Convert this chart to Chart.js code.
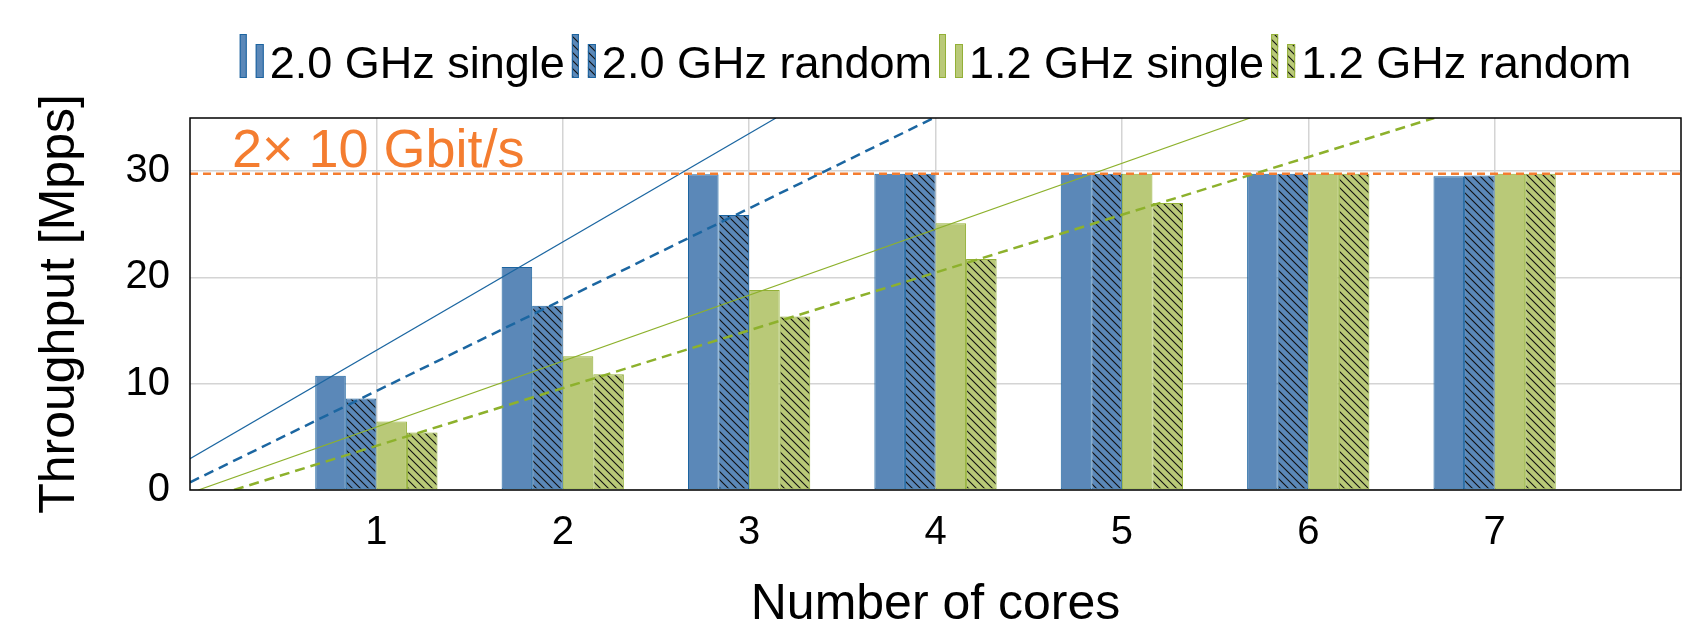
<!DOCTYPE html>
<html>
<head>
<meta charset="utf-8">
<script src="https://cdn.jsdelivr.net/npm/chart.js@4.4.0/dist/chart.umd.min.js"></script>
<style>
    html, body { margin: 0; padding: 0; background: #fff; }
</style>
</head>
<body>
<canvas id="myChart" width="1687" height="625"></canvas>
<script>
const cores = [1, 2, 3, 4, 5, 6, 7]
const single20 = [10.74, 20.97, 29.70, 29.76, 29.76, 29.76, 29.51]
const random20 = [8.60, 17.33, 25.87, 29.76, 29.76, 29.76, 29.58]
const single12 = [6.44, 12.59, 18.81, 25.09, 29.76, 29.76, 29.76]
const random12 = [5.40, 10.89, 16.33, 21.73, 27.00, 29.76, 29.76]
const seriesLabels = ['2.0 GHz single', '2.0 GHz random', '1.2 GHz single', '1.2 GHz random']
const yTicks = [0, 10, 20, 30]

// 2x10GbE line rate
const lineRate = 29.76
const lineRateLabel = '2× 10 Gbit/s'
const lineRateLabelAt = [0.225, 30.4]

// ideal scaling lines, end points [x, y]
const idealSingle20 = [[0, 2.95], [3.144, 35]]
const idealRandom20 = [[0, 0.72], [3.99, 35]]
const idealSingle12 = [[0.045, 0], [5.688, 35]]
const idealRandom12 = [[0.236, 0], [6.676, 35]]

const blueFill = '#5b88b8'
const blueEdge = '#1c64a0'
const blueLine = '#1b66a1'
const greenFill = '#b9c978'
const greenEdge = '#93b037'
const greenLine = '#8db12c'
const orange = '#f47d30'
const fontFamily = '"Liberation Sans", Arial, sans-serif'

const makeHatch = (fill) => {
    const s = 8
    const c = document.createElement('canvas')
    c.width = s
    c.height = s
    const g = c.getContext('2d')
    g.fillStyle = fill
    g.fillRect(0, 0, s, s)
    g.strokeStyle = '#111'
    g.lineWidth = 1.1
    g.beginPath()
    g.moveTo(-1, -1)
    g.lineTo(s + 1, s + 1)
    g.moveTo(s - 1, -1)
    g.lineTo(s + 1, 1)
    g.moveTo(-1, s - 1)
    g.lineTo(1, s + 1)
    g.stroke()
    return g.createPattern(c, 'repeat')
}

const toPoints = (values) => cores.map((c, i) => ({x: c, y: values[i]}))
const toLine = (pairs) => pairs.map(p => ({x: p[0], y: p[1]}))

const barSet = (label, values, fill, edge) => ({
    type: 'bar',
    label: label,
    data: toPoints(values),
    backgroundColor: fill,
    borderColor: edge,
    borderWidth: 1,
    borderSkipped: false,
    categoryPercentage: 0.656,
    barPercentage: 1,
    order: 2
})

const lineSet = (pairs, color, dashed) => ({
    type: 'line',
    data: toLine(pairs),
    borderColor: color,
    borderWidth: dashed ? 2.5 : 1.2,
    borderDash: dashed ? [10, 6] : [],
    pointRadius: 0,
    fill: false,
    order: 1
})

const extrasPlugin = {
    id: 'extras',
    afterDatasetsDraw(chart) {
        const {ctx, chartArea: a, scales} = chart
        ctx.save()
        ctx.fillStyle = orange
        ctx.font = `54px ${fontFamily}`
        ctx.textBaseline = 'alphabetic'
        ctx.fillText(lineRateLabel,
            scales.x.getPixelForValue(lineRateLabelAt[0]),
            scales.y.getPixelForValue(lineRateLabelAt[1]))
        ctx.strokeStyle = '#000'
        ctx.lineWidth = 1.5
        ctx.strokeRect(a.left, a.top, a.right - a.left, a.bottom - a.top)
        ctx.restore()
    },
    afterDraw(chart) {
        // legend with pgfplots style bar icons
        const {ctx, chartArea: a} = chart
        const bars = chart.data.datasets.filter(d => d.type === 'bar')
        ctx.save()
        ctx.font = `45px ${fontFamily}`
        const widths = bars.map(d => 30 + ctx.measureText(d.label).width)
        const gap = 7
        const total = widths.reduce((s, w) => s + w, 0) + gap * (bars.length - 1)
        let x = (a.left + a.right) / 2 - total / 2
        const base = 78
        bars.forEach((d, i) => {
            ctx.fillStyle = d.backgroundColor
            ctx.strokeStyle = d.borderColor
            ctx.lineWidth = 1
            ctx.fillRect(x, base - 44, 7, 44)
            ctx.strokeRect(x + 0.5, base - 44 + 0.5, 6, 43)
            ctx.fillRect(x + 16, base - 34, 8, 34)
            ctx.strokeRect(x + 16.5, base - 34 + 0.5, 7, 33)
            ctx.fillStyle = '#000'
            ctx.textBaseline = 'alphabetic'
            ctx.fillText(d.label, x + 30, base)
            x += widths[i] + gap
        })
        ctx.restore()
    }
}

const gridColor = '#d4d4d4'

const ctx = document.getElementById('myChart').getContext('2d')
const myChart = new Chart(ctx, {
    type: 'bar',
    data: {
        datasets: [
            barSet(seriesLabels[0], single20, blueFill, blueEdge),
            barSet(seriesLabels[1], random20, makeHatch(blueFill), blueEdge),
            barSet(seriesLabels[2], single12, greenFill, greenEdge),
            barSet(seriesLabels[3], random12, makeHatch(greenFill), greenEdge),
            lineSet(idealSingle20, blueLine, false),
            lineSet(idealRandom20, blueLine, true),
            lineSet(idealSingle12, greenLine, false),
            lineSet(idealRandom12, greenLine, true),
            {
                type: 'line',
                data: [{x: 0, y: lineRate}, {x: 8, y: lineRate}],
                borderColor: orange,
                borderWidth: 2.6,
                borderDash: [8, 5],
                pointRadius: 0,
                fill: false,
                order: 0
            }
        ]
    },
    options: {
        responsive: false,
        animation: false,
        layout: {
            padding: {top: 118, right: 6, bottom: 0, left: 0}
        },
        plugins: {
            legend: {display: false},
            tooltip: {enabled: false}
        },
        scales: {
            x: {
                type: 'linear',
                min: 0,
                max: 8,
                offset: false,
                afterBuildTicks: (s) => { s.ticks = cores.map(v => ({value: v})) },
                afterFit: (s) => { s.height = 135 },
                ticks: {
                    color: '#000',
                    padding: 19,
                    autoSkip: false,
                    maxRotation: 0,
                    font: {family: fontFamily, size: 40}
                },
                grid: {color: gridColor, lineWidth: 1.5, drawTicks: false, offset: false},
                border: {display: false},
                title: {
                    display: true,
                    text: 'Number of cores',
                    color: '#000',
                    font: {family: fontFamily, size: 50, lineHeight: 1},
                    padding: {top: 0, bottom: -5}
                }
            },
            y: {
                min: 0,
                max: 35,
                afterBuildTicks: (s) => { s.ticks = yTicks.map(v => ({value: v})) },
                afterFit: (s) => { s.width = 190 },
                ticks: {
                    color: '#000',
                    padding: 20,
                    font: {family: fontFamily, size: 40}
                },
                grid: {color: gridColor, lineWidth: 1.5, drawTicks: false},
                border: {display: false},
                title: {
                    display: true,
                    text: 'Throughput [Mpps]',
                    color: '#000',
                    font: {family: fontFamily, size: 50, lineHeight: 1.2},
                    padding: {top: 30, bottom: 0}
                }
            }
        }
    },
    plugins: [extrasPlugin]
})
</script>
</body>
</html>
